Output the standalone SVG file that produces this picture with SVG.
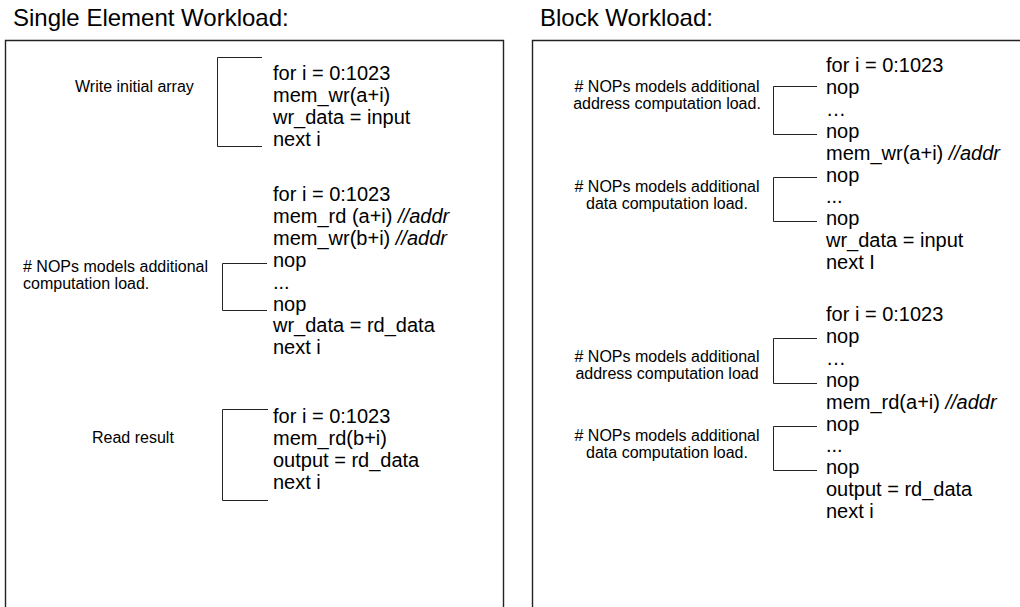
<svg xmlns="http://www.w3.org/2000/svg" width="1020" height="607" viewBox="0 0 1020 607">
<style>
text{font-family:"Liberation Sans",Arial,sans-serif;fill:#000}
.title{font-size:24px}
.code{font-size:20px}
.lbl{font-size:16px}
.rl{font-size:16px;text-anchor:middle}
.it{font-style:italic}
.panel{fill:#fff;stroke:#222;stroke-width:1.4}
.br{fill:none;stroke:#222;stroke-width:1}
</style>
<rect width="1020" height="607" fill="#fff"/>
<g id="left-panel">
<text class="title" x="13" y="26">Single Element Workload:</text>
<path class="panel" d="M5.5 620V40.5H503.5V620"/>
</g>
<g id="right-panel">
<text class="title" x="540" y="26">Block Workload:</text>
<path class="panel" d="M532.5 620V40.5H1030"/>
</g>
<g id="connectors">
<path class="br" d="M262 57.5H217.5V146.5H262"/>
<path class="br" d="M267 263.5H222.5V310.5H267"/>
<path class="br" d="M268 409.5H222.5V500.5H268"/>
<path class="br" d="M817 86.5H773.5V134.5H817"/>
<path class="br" d="M817 177.5H773.5V221.5H817"/>
<path class="br" d="M817 338.5H773.5V383.5H817"/>
<path class="br" d="M817 426.5H773.5V470.5H817"/>
</g>
<g id="se-write">
<text class="lbl" x="75" y="92">Write initial array</text>
<text class="code" x="273" y="80">for i = 0:1023</text>
<text class="code" x="273" y="101.9">mem_wr(a+i)</text>
<text class="code" x="273" y="123.8">wr_data = input</text>
<text class="code" x="273" y="145.7">next i</text>
</g>
<g id="se-compute">
<text class="lbl" x="23" y="272">
<tspan x="23">#&#160;NOPs models additional</tspan>
<tspan x="23" dy="16.5">computation load.</tspan>
</text>
<text class="code" x="273" y="201">for i = 0:1023</text>
<text class="code" x="273" y="222.9">mem_rd (a+i) <tspan class="it">//addr</tspan></text>
<text class="code" x="273" y="244.8">mem_wr(b+i) <tspan class="it">//addr</tspan></text>
<text class="code" x="273" y="266.7">nop</text>
<text class="code" x="273" y="288.6">...</text>
<text class="code" x="273" y="310.5">nop</text>
<text class="code" x="273" y="332.4">wr_data = rd_data</text>
<text class="code" x="273" y="354.3">next i</text>
</g>
<g id="se-read">
<text class="lbl" x="92" y="443">Read result</text>
<text class="code" x="273" y="423">for i = 0:1023</text>
<text class="code" x="273" y="444.9">mem_rd(b+i)</text>
<text class="code" x="273" y="466.8">output = rd_data</text>
<text class="code" x="273" y="488.7">next i</text>
</g>
<g id="blk-write">
<text class="rl" y="92"><tspan x="667"># NOPs models additional</tspan><tspan x="667" dy="16.5">address computation load.</tspan></text>
<text class="rl" y="192"><tspan x="667"># NOPs models additional</tspan><tspan x="667" dy="16.5">data computation load.</tspan></text>
<text class="code" x="826" y="72">for i = 0:1023</text>
<text class="code" x="826" y="93.9">nop</text>
<text class="code" x="826" y="115.8">…</text>
<text class="code" x="826" y="137.7">nop</text>
<text class="code" x="826" y="159.6">mem_wr(a+i) <tspan class="it">//addr</tspan></text>
<text class="code" x="826" y="181.5">nop</text>
<text class="code" x="826" y="203.4">...</text>
<text class="code" x="826" y="225.3">nop</text>
<text class="code" x="826" y="247.2">wr_data = input</text>
<text class="code" x="826" y="269.1">next I</text>
</g>
<g id="blk-read">
<text class="rl" y="362"><tspan x="667"># NOPs models additional</tspan><tspan x="667" dy="16.5">address computation load</tspan></text>
<text class="rl" y="441"><tspan x="667"># NOPs models additional</tspan><tspan x="667" dy="16.5">data computation load.</tspan></text>
<text class="code" x="826" y="321">for i = 0:1023</text>
<text class="code" x="826" y="342.9">nop</text>
<text class="code" x="826" y="364.8">…</text>
<text class="code" x="826" y="386.7">nop</text>
<text class="code" x="826" y="408.6">mem_rd(a+i) <tspan class="it">//addr</tspan></text>
<text class="code" x="826" y="430.5">nop</text>
<text class="code" x="826" y="452.4">...</text>
<text class="code" x="826" y="474.3">nop</text>
<text class="code" x="826" y="496.2">output = rd_data</text>
<text class="code" x="826" y="518.1">next i</text>
</g>
</svg>
